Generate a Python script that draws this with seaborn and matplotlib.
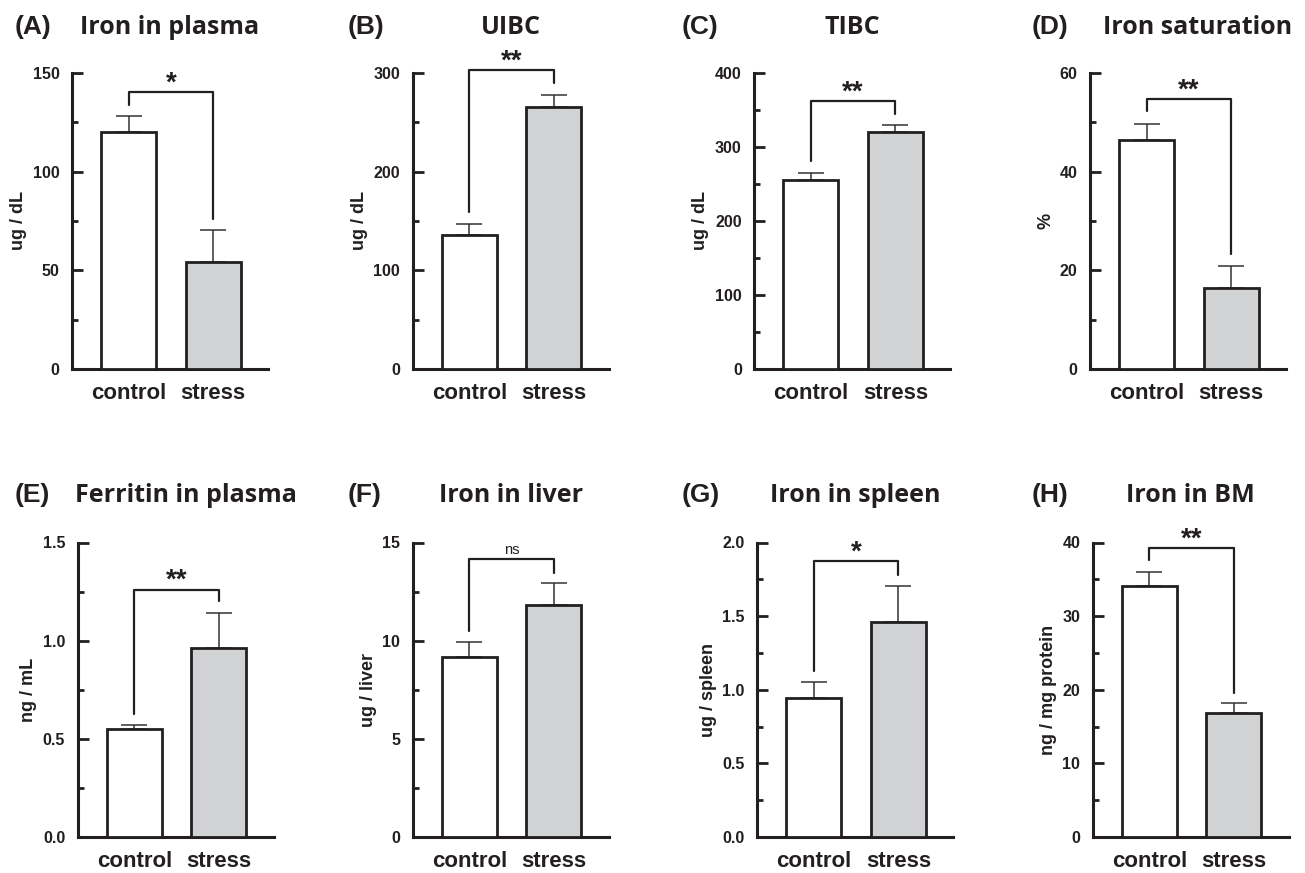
import numpy as np
import matplotlib
matplotlib.use('Agg')
import matplotlib.pyplot as plt
from matplotlib.ticker import MultipleLocator, FormatStrFormatter
import pandas as pd
import seaborn as sns

# values (mean and upper error)
groups = ['control', 'stress']
letters = ['(A)', '(B)', '(C)', '(D)', '(E)', '(F)', '(G)', '(H)']
titles = ['Iron in plasma', 'UIBC', 'TIBC', 'Iron saturation',
          'Ferritin in plasma', 'Iron in liver', 'Iron in spleen', 'Iron in BM']
ylabels = ['ug / dL', 'ug / dL', 'ug / dL', '%',
           'ng / mL', 'ug / liver', 'ug / spleen', 'ng / mg protein']
control_mean = [120.3, 136, 256, 46.5, 0.548, 9.15, 0.943, 34.1]
control_err = [7.8, 11, 9.3, 3.2, 0.02, 0.77, 0.109, 1.9]
stress_mean = [54.2, 265.8, 320.3, 16.4, 0.961, 11.83, 1.457, 16.9]
stress_err = [16.2, 12.2, 9.0, 4.5, 0.18, 1.1, 0.247, 1.3]
ymax = [150, 300, 400, 60, 1.5, 15, 2.0, 40]
ystep = [50, 100, 100, 20, 0.5, 5, 0.5, 10]
tick_fmt = ['%d', '%d', '%d', '%d', '%.1f', '%d', '%.1f', '%d']
signif = ['*', '**', '**', '**', '**', 'ns', '*', '**']
bracket_y = [140.2, 303, 361.6, 54.7, 1.259, 14.17, 1.871, 39.2]
left_leg_end = [133.8, 158.8, 280.5, 52.2, 0.624, 10.47, 1.129, 37.6]
right_leg_end = [76, 290, 344.6, 23.3, 1.2, 13.47, 1.78, 19.6]

sns.set_theme(style='ticks')
plt.rcParams['font.family'] = ['Liberation Sans', 'DejaVu Sans']
plt.rcParams['font.weight'] = 'bold'

W, H = 1305, 873
fig = plt.figure(figsize=(W / 100, H / 100), dpi=100)

# axes placement in pixels: left spine x, top y, bottom y
lefts = [72, 412.7, 754.3, 1090, 77.7, 412.7, 757.3, 1092.7]
tops = [73] * 4 + [542.5] * 4
bottoms = [369] * 4 + [837] * 4
letter_x = [15, 348, 682, 1032, 15, 348, 682, 1032]
title_shift = [0, 0, 0, 10, 10, 0, 0, 0]
text_base = [34] * 4 + [502] * 4
axw = 196

edge = '#231f20'
fills = ['white', '#d1d2d4']

for i in range(8):
    ax = fig.add_axes([lefts[i] / W, 1 - bottoms[i] / H, axw / W,
                       (bottoms[i] - tops[i]) / H])
    df = pd.DataFrame({'group': groups,
                       'value': [control_mean[i], stress_mean[i]]})
    sns.barplot(data=df, x='group', y='value', hue='group', palette=fills,
                width=0.65, edgecolor=edge, linewidth=2.0, legend=False,
                errorbar=None, ax=ax, zorder=3)
    ax.errorbar([0, 1], df['value'],
                yerr=[[0, 0], [control_err[i], stress_err[i]]],
                fmt='none', ecolor='#333333', elinewidth=1.1,
                capsize=9.5, capthick=1.1, zorder=2)

    # significance bracket
    ax.plot([0, 0, 1, 1],
            [left_leg_end[i], bracket_y[i], bracket_y[i], right_leg_end[i]],
            color=edge, lw=1.6, clip_on=False, zorder=4)
    if signif[i] == 'ns':
        ax.annotate('ns', (0.5, bracket_y[i]), xytext=(0, 1),
                    textcoords='offset points', ha='center', va='bottom',
                    fontsize=10.5, fontweight='normal', color=edge,
                    annotation_clip=False)
    else:
        ax.annotate(signif[i], (0.5, bracket_y[i]), xytext=(0, -3),
                    textcoords='offset points', ha='center', va='bottom',
                    fontsize=20, fontweight='bold', color=edge,
                    annotation_clip=False)

    ax.set_xlim(-0.67, 1.65)
    ax.set_ylim(0, ymax[i])
    ax.yaxis.set_major_locator(MultipleLocator(ystep[i]))
    ax.yaxis.set_minor_locator(MultipleLocator(ystep[i] / 2))
    ax.yaxis.set_major_formatter(FormatStrFormatter(tick_fmt[i]))
    ax.tick_params(axis='y', which='major', direction='in', length=8,
                   width=2.0, color=edge, labelsize=11.5, pad=9)
    ax.tick_params(axis='y', which='minor', direction='in', length=4.5,
                   width=2.0, color=edge)
    ax.tick_params(axis='x', length=0, labelsize=16, pad=10)
    for lab in ax.get_xticklabels() + ax.get_yticklabels():
        lab.set_fontweight('bold')
        lab.set_color(edge)
    ax.set_xlabel('')
    ax.set_ylabel(ylabels[i], fontsize=13, fontweight='bold', color=edge,
                  labelpad=4)
    sns.despine(ax=ax)
    for s in ['left', 'bottom']:
        ax.spines[s].set_linewidth(2.2)
        ax.spines[s].set_color(edge)

    fig.text(letter_x[i] / W, 1 - text_base[i] / H, letters[i],
             fontsize=19, fontweight='bold', color=edge, va='baseline',
             family=['Liberation Sans', 'DejaVu Sans'])
    fig.text((lefts[i] + axw / 2 + title_shift[i]) / W, 1 - text_base[i] / H,
             titles[i], fontsize=18, fontweight='bold', color=edge,
             va='baseline', ha='center', family=['Open Sans', 'DejaVu Sans'])

fig.savefig('out.png', dpi=100)
